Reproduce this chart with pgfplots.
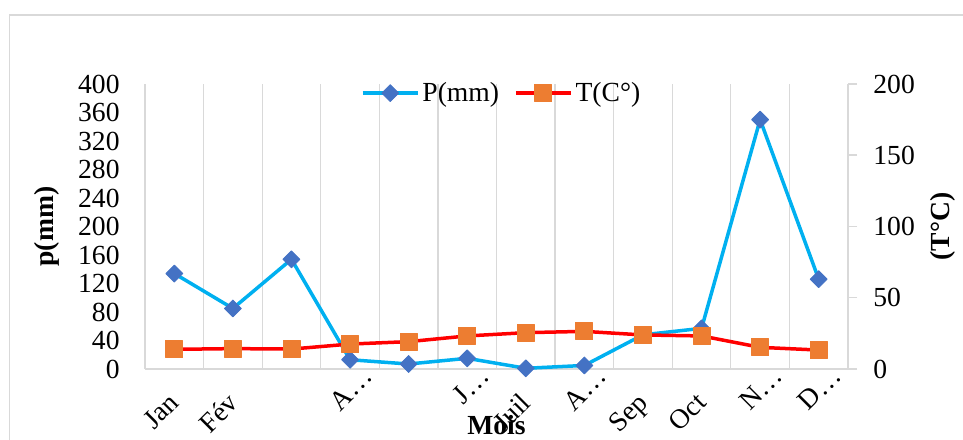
\documentclass[border=0pt]{standalone}
\usepackage{fontspec}
\setmainfont{Liberation Serif}
\usepackage{pgfplots}
\pgfplotsset{compat=1.18}
\definecolor{pline}{HTML}{00B0F0}
\definecolor{pmark}{HTML}{4472C4}
\definecolor{tline}{HTML}{FF0000}
\definecolor{tmark}{HTML}{ED7D31}
\definecolor{gridc}{HTML}{D9D9D9}
\newcommand{\fs}{\fontsize{13.8}{16}\selectfont}
\newcommand{\tr}[1]{\raisebox{2.8pt}[\height][\depth]{#1}\hspace*{-15.6pt}}
\pgfplotsset{
  common/.style={
    at={(72.5pt,35pt)}, anchor=south west, scale only axis,
    width=351.5pt, height=142.5pt, xmin=-0.5, xmax=11.5, clip=false,
    tick label style={font=\fs},
    /pgf/number format/assume math mode=true,
  },
  pstyle/.style={color=pline, line width=1.75pt, line join=round, mark=square*, mark size=3pt,
    mark options={rotate=45, fill=pmark, draw=pmark, line width=0.4pt}},
  tstyle/.style={color=tline, line width=1.75pt, line join=round, mark=square*, mark size=4.25pt,
    mark options={fill=tmark, draw=tmark, line width=0.4pt}},
}
\begin{document}
\begin{tikzpicture}
\path[use as bounding box] (0,0) rectangle (481.5pt,219.5pt);
\draw[gridc, line width=0.6pt] (4.75pt,-2pt) -- (4.75pt,212pt) -- (484pt,212pt);
\begin{axis}[common,
  ymin=0, ymax=400, ytick={0,40,...,400},
  axis x line*=bottom, axis y line*=left,
  x axis line style={draw=gridc, line width=0.75pt, -},
  y axis line style={draw=gridc, line width=0.6pt, -},
  major tick length=0pt, minor tick length=0pt,
  xtick={-0.5,0.5,1.5,2.5,3.5,4.5,5.5,6.5,7.5,8.5,9.5,10.5,11.5},
  x tick label as interval,
  xticklabels={Jan,Fév,,\tr{A…},,\tr{J…},Juil,\tr{A…},Sep,Oct,\tr{N…},\tr{D…}},
  xmajorgrids=true,
  major x grid style={draw=gridc, line width=0.6pt},
  xticklabel style={xshift=-3.5pt, yshift=-11pt, rotate=45, anchor=north east, inner sep=0pt},
  yticklabel style={xshift=-12.5pt, inner sep=0pt, anchor=east},
  xlabel={Mois},
  xlabel style={font=\fs\bfseries, at={(axis description cs:0.5,-0.196)}, anchor=center},
  ylabel={p(mm)},
  ylabel style={font=\fs\bfseries, at={(axis description cs:-0.139,0.5)}, anchor=center},
]
\addplot[pstyle] coordinates {
  (0,134) (1,85) (2,154) (3,13) (4,7) (5,15) (6,1) (7,5) (8,48) (9,57) (10,350) (11,126)
};
\end{axis}
\begin{axis}[common,
  ymin=0, ymax=200, ytick={0,50,...,200},
  axis y line*=right, axis x line=none,
  y axis line style={draw=gridc, line width=0.75pt, -},
  ytick style={draw=gridc, line width=0.75pt},
  tick align=outside, major tick length=4.5pt,
  yticklabel style={anchor=west, inner sep=0pt, xshift=8pt},
  ylabel={(T°C)},
  ylabel style={font=\fs\bfseries, at={(axis description cs:1.135,0.5)}, anchor=center},
  legend columns=2,
  legend style={at={(axis description cs:0.508,0.968)}, anchor=center, draw=none, fill=none,
    font=\fs, nodes={inner sep=1.5pt},
    /tikz/every even column/.append style={column sep=6pt}},
  legend image code/.code={\draw[mark repeat=2,mark phase=2] plot coordinates {(0pt,0pt) (13.75pt,0pt) (27.5pt,0pt)};},
]
\addlegendimage{pstyle}
\addlegendentry{P(mm)}
\addplot[tstyle] coordinates {
  (0,13.8) (1,14.3) (2,14.0) (3,17.5) (4,19.2) (5,23.2) (6,25.5) (7,26.4) (8,23.9) (9,23.2) (10,15.2) (11,13.3)
};
\addlegendentry{T(C°)}
\end{axis}
\end{tikzpicture}
\end{document}
